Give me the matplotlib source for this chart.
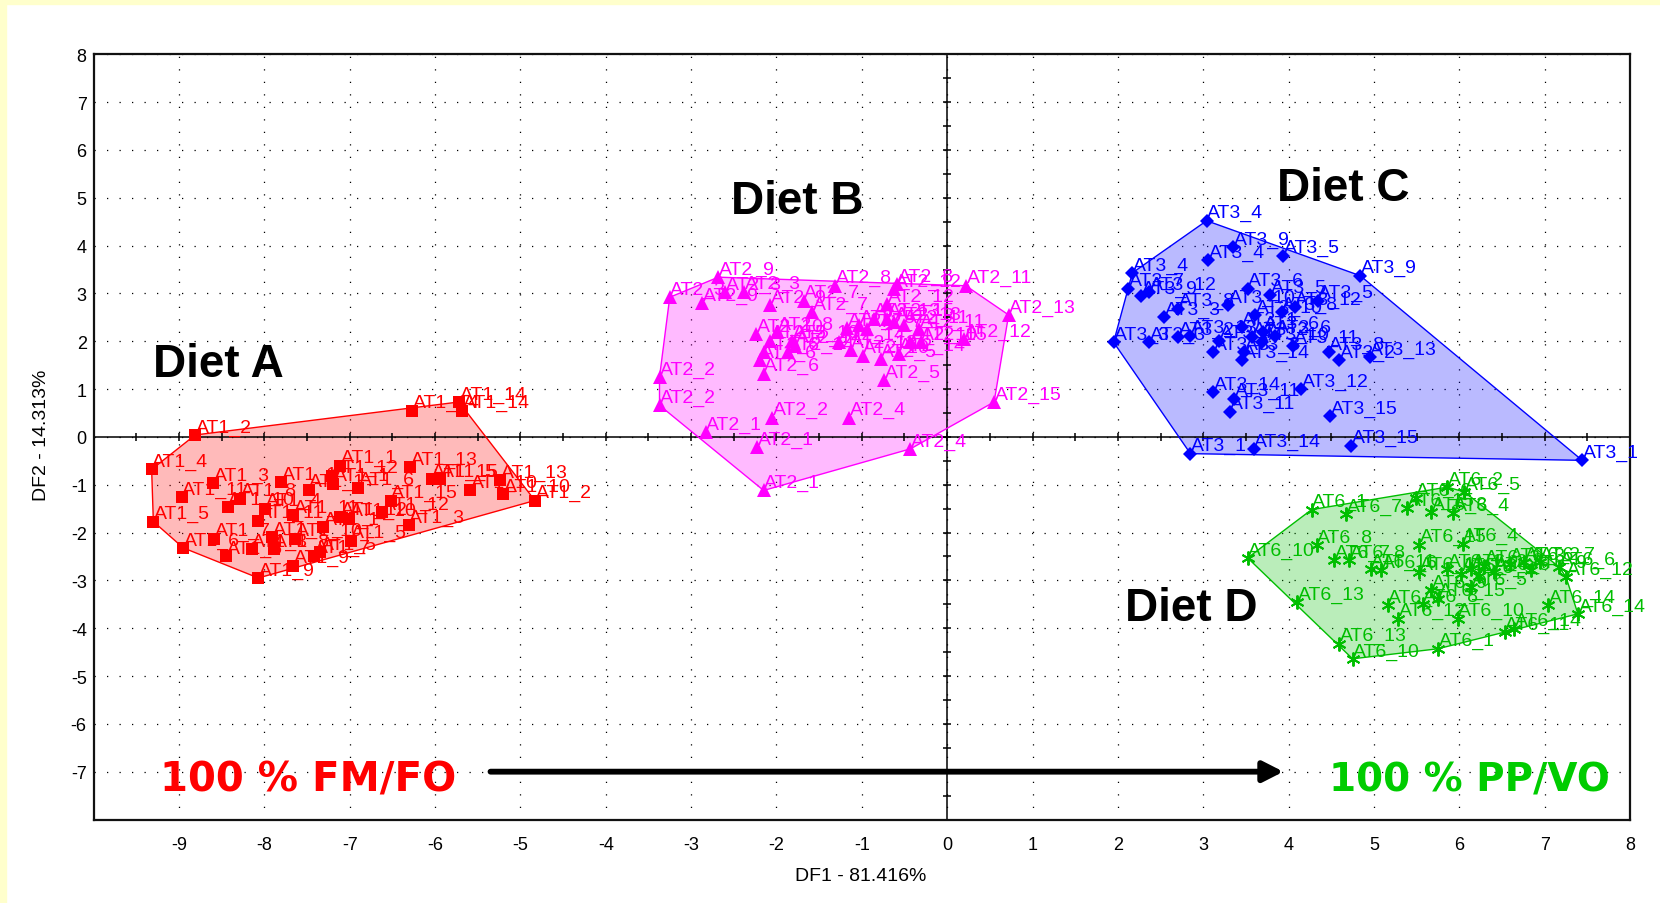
import matplotlib
matplotlib.use("Agg")
import matplotlib.pyplot as plt
from matplotlib.patches import Rectangle, Polygon
import numpy as np

# ---------------- data ----------------
a_x = [-8.81, -9.32, -9.30, -8.95, -8.07, -8.97, -8.60, -8.43, -8.28, -8.59, -8.45, -8.15,
       -7.89, -7.91, -8.07, -7.99, -7.80, -7.66, -7.64, -7.66, -7.48, -7.42, -7.35, -7.31,
       -7.21, -7.19, -7.11, -7.11, -7.01, -6.99, -6.90, -6.62, -6.52, -6.31, -6.27, -6.29,
       -6.04, -5.94, -5.72, -5.68, -5.59, -5.24, -5.20, -4.83]
a_y = [0.04, -0.68, -1.77, -2.32, -2.95, -1.26, -0.96, -1.47, -1.29, -2.13, -2.49, -2.35,
       -2.35, -2.09, -1.75, -1.50, -0.94, -1.64, -2.13, -2.69, -1.10, -2.48, -2.41, -1.88,
       -0.81, -0.98, -0.60, -1.68, -1.71, -2.17, -1.06, -1.57, -1.33, -1.85, 0.55, -0.63,
       -0.88, -0.88, 0.73, 0.55, -1.12, -0.91, -1.19, -1.33]
a_lab = ["AT1_2", "AT1_4", "AT1_5", "AT1_6", "AT1_9", "AT1_11", "AT1_3", "AT1_10", "AT1_8", "AT1_7",
         "AT1_6", "AT1_3", "AT1_8", "AT1_7", "AT1_11", "AT1_4", "AT1_1", "AT1_11", "AT1_10", "AT1_9",
         "AT1_1", "AT1_7", "AT1_5", "AT1_1", "AT1_12", "AT1_1", "AT1_1", "AT1_12", "AT1_10", "AT1_5",
         "AT1_6", "AT1_12", "AT1_15", "AT1_3", "AT1_14", "AT1_13", "AT1_15", "AT1_5", "AT1_14",
         "AT1_14", "AT1_10", "AT1_13", "AT1_10", "AT1_2"]

b_x = [-3.25, -2.87, -2.68, -2.60, -2.38, -2.07, -1.68, -1.58, -1.31, -0.62, -0.59, 0.22,
       0.72, 0.20, -0.33, 0.55, -0.43, -2.15, -2.23, -2.83, -2.05, -1.15, -3.37, -3.37,
       -2.15, -2.19, -2.15, -2.24, -2.07, -1.87, -1.82, -1.78, -1.99, -1.27, -1.17, -1.13,
       -1.03, -0.99, -0.78, -0.74, -0.86, -0.70, -0.70, -0.57, -0.51, -0.43, -0.31, -0.62, -0.94]
b_y = [2.92, 2.80, 3.34, 3.03, 3.04, 2.75, 2.85, 2.61, 3.16, 3.09, 3.20, 3.16,
       2.55, 2.05, 2.26, 0.73, -0.25, -1.12, -0.21, 0.10, 0.40, 0.40, 0.66, 1.25,
       1.32, 1.60, 1.77, 2.15, 2.01, 1.77, 2.01, 1.91, 2.19, 1.98, 2.27, 1.81,
       2.33, 1.70, 1.63, 1.18, 2.47, 2.47, 2.78, 1.74, 2.33, 1.98, 1.98, 2.40, 2.26]
b_lab = ["AT2_3", "AT2_9", "AT2_9", "AT2_3", "AT2_3", "AT2_9", "AT2_7", "AT2_7", "AT2_8", "AT2_12",
         "AT2_8", "AT2_11", "AT2_13", "AT2_12", "AT2_11", "AT2_15", "AT2_4", "AT2_1", "AT2_1", "AT2_1",
         "AT2_2", "AT2_4", "AT2_2", "AT2_2", "AT2_6", "AT2_6", "AT2_6", "AT2_10", "AT2_5", "AT2_14",
         "AT2_10", "AT2_14", "AT2_8", "AT2_14", "AT2_7", "AT2_13", "AT2_5", "AT2_10", "AT2_5", "AT2_5",
         "AT2_13", "AT2_15", "AT2_12", "AT2_14", "AT2_11", "AT2_10", "AT2_15", "AT2_13", "AT2_7"]

c_x = [3.04, 3.35, 3.06, 3.94, 4.84, 2.17, 2.12, 2.27, 2.37, 1.95, 2.37, 2.54, 2.71, 2.71,
       2.85, 3.12, 3.19, 3.29, 3.52, 3.61, 3.48, 3.46, 3.57, 3.69, 3.78, 3.84, 3.92, 4.05,
       4.07, 4.34, 4.47, 4.59, 4.95, 4.15, 3.12, 3.36, 3.31, 4.49, 2.85, 3.59, 4.73, 7.44,
       3.70, 3.45]
c_y = [4.52, 3.97, 3.69, 3.79, 3.37, 3.43, 3.10, 2.94, 3.03, 1.98, 1.98, 2.50, 2.68, 2.09,
       2.12, 1.77, 2.01, 2.75, 3.10, 2.54, 1.77, 1.60, 2.09, 1.98, 2.96, 2.12, 2.61, 1.91,
       2.71, 2.85, 1.77, 1.60, 1.67, 1.00, 0.94, 0.80, 0.53, 0.43, -0.35, -0.25, -0.18, -0.49,
       2.20, 2.30]
c_lab = ["AT3_4", "AT3_9", "AT3_4", "AT3_5", "AT3_9", "AT3_4", "AT3_7", "AT3_9", "AT3_12", "AT3_3",
         "AT3_3", "AT3_3", "AT3_8", "AT3_2", "AT3_13", "AT3_3", "AT3_7", "AT3_10", "AT3_6", "AT3_10",
         "AT3_8", "AT3_14", "AT3_2", "AT3_10", "AT3_5", "AT3_6", "AT3_8", "AT3_11", "AT3_12", "AT3_5",
         "AT3_8", "AT3_2", "AT3_13", "AT3_12", "AT3_14", "AT3_11", "AT3_11", "AT3_15", "AT3_1",
         "AT3_14", "AT3_15", "AT3_1", "AT3_6", "AT3_1"]

d_x = [3.52, 4.27, 4.67, 5.39, 5.67, 5.93, 5.49, 5.86, 6.06, 4.33, 4.53, 4.71, 4.96, 5.08,
       5.53, 6.04, 5.53, 5.86, 6.02, 6.14, 6.29, 6.41, 6.59, 6.76, 6.84, 6.94, 7.25, 7.04,
       7.39, 6.53, 6.64, 5.98, 5.75, 4.75, 4.59, 4.10, 5.16, 5.28, 5.57, 5.67, 5.75, 6.14,
       6.23, 7.17]
d_y = [-2.53, -1.52, -1.61, -1.49, -1.57, -1.59, -1.28, -1.05, -1.15, -2.27, -2.58, -2.58,
       -2.76, -2.79, -2.25, -2.23, -2.83, -2.76, -2.86, -2.76, -2.69, -2.83, -2.65, -2.62,
       -2.79, -2.62, -2.93, -3.52, -3.70, -4.08, -4.01, -3.80, -4.43, -4.64, -4.32, -3.45,
       -3.52, -3.80, -3.49, -3.21, -3.38, -3.14, -2.90, -2.72]
d_lab = ["AT6_10", "AT6_1", "AT6_7", "AT6_15", "AT6_3", "AT6_4", "AT6_6", "AT6_2", "AT6_5", "AT6_8",
         "AT6_7", "AT6_8", "AT6_11", "AT6_6", "AT6_15", "AT6_4", "AT6_11", "AT6_1", "AT6_9", "AT6_2",
         "AT6_3", "AT6_5", "AT6_3", "AT6_2", "AT6_9", "AT6_7", "AT6_12", "AT6_14", "AT6_14", "AT6_11",
         "AT6_14", "AT6_10", "AT6_1", "AT6_10", "AT6_13", "AT6_13", "AT6_6", "AT6_12", "AT6_8", "AT6_9",
         "AT6_15", "AT6_5", "AT6_9", "AT6_6"]

diet_names = ["Diet A", "Diet B", "Diet C", "Diet D"]
diet_text_x = [-9.30, -2.53, 3.86, 2.08]
diet_text_y = [1.28, 4.68, 4.96, -3.82]

x_ticks = list(range(-9, 9))
y_ticks = list(range(-7, 9))
x_title = "DF1 - 81.416%"
y_title = "DF2 - 14.313%"
left_note, right_note = "100 % FM/FO", "100 % PP/VO"
arrow_from, arrow_to, arrow_y = -5.35, 3.94, -7.0
note_left_x, note_right_x, note_y = -9.22, 4.47, -7.40

# ---------------- style ----------------
groups = [
    (a_x, a_y, a_lab, "#FF0000", "s", 8.0),
    (b_x, b_y, b_lab, "#FF00FF", "^", 9.5),
    (c_x, c_y, c_lab, "#0000FF", "D", 7.5),
    (d_x, d_y, d_lab, "#00BE00", (6, 2, 0), 10.0),
]
small_font = ["Liberation Sans Narrow", "Liberation Sans", "DejaVu Sans"]
plt.rcParams["axes.unicode_minus"] = False


def convex_hull(xs, ys):
    pts = sorted(set(zip(xs, ys)))

    def cross(o, a, b):
        return (a[0] - o[0]) * (b[1] - o[1]) - (a[1] - o[1]) * (b[0] - o[0])

    lower, upper = [], []
    for p in pts:
        while len(lower) >= 2 and cross(lower[-2], lower[-1], p) <= 0:
            lower.pop()
        lower.append(p)
    for p in reversed(pts):
        while len(upper) >= 2 and cross(upper[-2], upper[-1], p) <= 0:
            upper.pop()
        upper.append(p)
    return lower[:-1] + upper[:-1]


W, H = 1660, 904
fig = plt.figure(figsize=(W / 100, H / 100), dpi=100, facecolor="white")
fig.patches.append(Rectangle((0, 1 - 5 / H), 1, 5 / H, transform=fig.transFigure,
                             color="#FFFFCC", zorder=0))
fig.patches.append(Rectangle((0, 0), 6 / W, 1, transform=fig.transFigure,
                             color="#FFFFCC", zorder=0))

l, r, t, b = 93.6, 1630, 55.3, 820.5
ax = fig.add_axes([l / W, 1 - b / H, (r - l) / W, (b - t) / H])
ax.set_xlim(-10, 8)
ax.set_ylim(-8, 8)

ax.set_xticks(x_ticks)
ax.set_yticks(y_ticks)
ax.set_xticklabels([str(v) for v in x_ticks], family=small_font, fontsize=13)
ax.set_yticklabels([str(v) for v in y_ticks], family=small_font, fontsize=13)
ax.tick_params(axis="x", length=0, pad=12)
ax.tick_params(axis="y", length=0, pad=5)
ax.grid(True, color="black", linestyle=(0, (1, 9)), linewidth=0.9, zorder=0.5)
ax.set_axisbelow(True)
for s in ax.spines.values():
    s.set_linewidth(1.6)
    s.set_color("#111111")

# zero axes with half-unit ticks
ax.axhline(0, color="black", lw=1.1, zorder=1.5)
ax.axvline(0, color="black", lw=1.1, zorder=1.5)
half_x = np.arange(-9.5, 8.0, 0.5)
half_y = np.arange(-7.5, 8.0, 0.5)
ax.plot(half_x, np.zeros_like(half_x), linestyle="none", marker="|", ms=6,
        mew=1.1, color="black", zorder=1.5)
ax.plot(np.zeros_like(half_y), half_y, linestyle="none", marker="_", ms=6,
        mew=1.1, color="black", zorder=1.5)

for xs, ys, labs, col, mk, ms in groups:
    hull = convex_hull(xs, ys)
    ax.add_patch(Polygon(hull, closed=True, facecolor=col, alpha=0.27,
                         edgecolor="none", zorder=1))
    ax.add_patch(Polygon(hull, closed=True, facecolor="none",
                         edgecolor=col, lw=1.0, zorder=2))
    if mk == (6, 2, 0):
        ax.plot(xs, ys, linestyle="none", marker=mk, ms=ms, mew=1.4,
                color=col, zorder=3)
    else:
        ax.plot(xs, ys, linestyle="none", marker=mk, ms=ms, mew=0,
                color=col, zorder=3)
    for x, y, s in zip(xs, ys, labs):
        ax.annotate(s, (x, y), xytext=(0.5, 2.5), textcoords="offset points",
                    ha="left", va="baseline", color=col, fontsize=14,
                    family=["Liberation Sans", "DejaVu Sans"], zorder=4,
                    annotation_clip=False)

for name, x, y in zip(diet_names, diet_text_x, diet_text_y):
    ax.text(x, y, name, fontsize=33, fontweight="bold", color="black",
            family=["Liberation Sans", "DejaVu Sans"], ha="left", va="baseline", zorder=6)

ax.text(note_left_x, note_y, left_note, color="#FF0000", fontsize=29, fontweight="bold",
        family=["DejaVu Sans"], ha="left", va="baseline", zorder=6)
ax.text(note_right_x, note_y, right_note, color="#00CC00", fontsize=28, fontweight="bold",
        family=["DejaVu Sans"], ha="left", va="baseline", zorder=6)
ax.annotate("", xy=(arrow_to, arrow_y), xytext=(arrow_from, arrow_y),
            arrowprops=dict(arrowstyle="-|>,head_length=0.55,head_width=0.28",
                            lw=4.2, color="black", shrinkA=0, shrinkB=0,
                            mutation_scale=22),
            zorder=6)

ax.set_xlabel(x_title, family=small_font, fontsize=14)
ax.set_ylabel(y_title, family=small_font, fontsize=14)
ax.xaxis.set_label_coords((861 - l) / (r - l), (b - 876.5) / (b - t))
ax.xaxis.label.set_va("center")
ax.yaxis.set_label_coords((42 - l) / (r - l), (b - 435) / (b - t))
ax.yaxis.label.set_va("center")

fig.savefig("out.png", dpi=100, facecolor=fig.get_facecolor())
